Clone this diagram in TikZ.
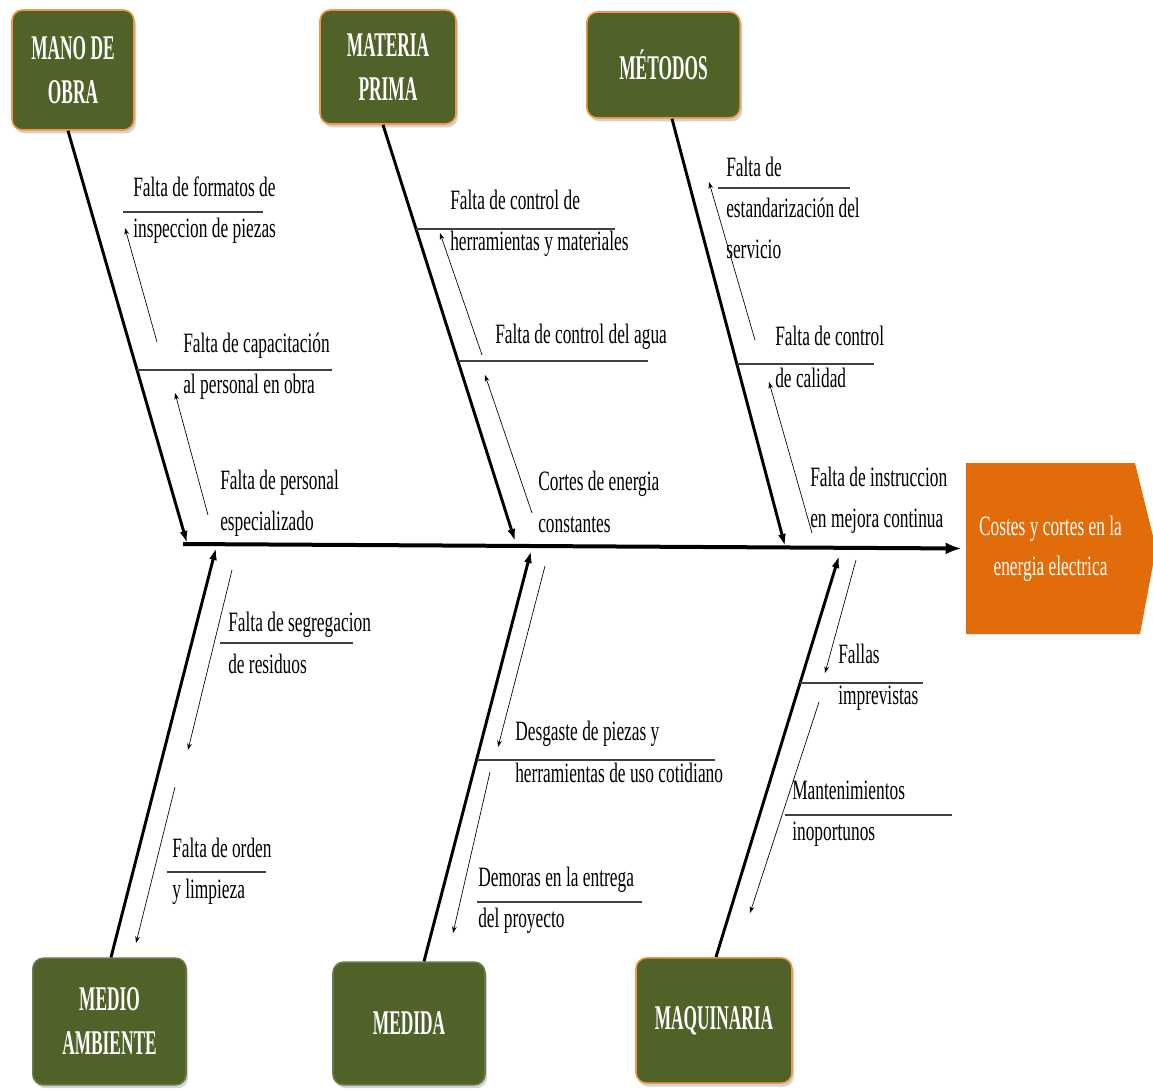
\documentclass[tikz,border=0pt]{standalone}
\usepackage{fontspec}
\setmainfont{Liberation Serif}
\newfontfamily\lblfont[FakeStretch=0.62]{Liberation Serif}
\newfontfamily\boxfont[FakeStretch=0.5]{Liberation Serif}
\usetikzlibrary{arrows.meta,shadows,calc}
\definecolor{fbgreen}{RGB}{79,98,40}
\definecolor{fborange}{RGB}{227,108,10}
\definecolor{fbborder}{RGB}{247,150,70}
\begin{document}
\begin{tikzpicture}[x=0.75pt,y=-0.75pt,
  cat/.style={rounded corners=8pt, fill=fbgreen, draw=fbborder, line width=1.2pt,
    drop shadow={opacity=0.35,shadow xshift=1.5pt,shadow yshift=-2.5pt},
    text=white, font=\boxfont\bfseries\fontsize{26}{33}\selectfont, align=center, inner sep=0pt},
  catnb/.style={cat, draw=fbgreen!85!white},
  bone/.style={line width=2.2pt, -{Latex[length=9pt,width=6pt]}},
  spine/.style={line width=3pt, -{Latex[length=12pt,width=9pt]}},
  thin/.style={line width=0.5pt, -{Stealth[length=5pt,width=3.5pt]}},
  sub/.style={line width=1.3pt, black!75},
  lbl/.style={font=\lblfont\fontsize{21}{31}\selectfont, align=left, anchor=west, inner sep=0pt}]
\useasboundingbox (0,0) rectangle (1153,1089);

% category boxes
\node[cat, minimum width=91.5pt, minimum height=90pt] (mo) at (73,70) {MANO DE\\OBRA};
\node[cat, minimum width=102pt, minimum height=85.5pt] (mp) at (388,67) {MATERIA\\PRIMA};
\node[cat, minimum width=115pt, minimum height=79.5pt] (me) at (663.5,65) {MÉTODOS};
\node[catnb, minimum width=115pt, minimum height=95pt] (ma) at (109.5,1021.5) {MEDIO\\AMBIENTE};
\node[catnb, minimum width=114pt, minimum height=92pt] (md) at (409,1023.5) {MEDIDA};
\node[cat, minimum width=117pt, minimum height=94pt] (mq) at (714,1020.5) {MAQUINARIA};

% effect
\fill[fborange] (966,463) -- (1135,463) -- (1156,548.5) -- (1140,634) -- (966,634) -- cycle;
\node[minimum width=127pt, minimum height=129pt, inner sep=0pt, text=white,
  font=\lblfont\fontsize{21}{30}\selectfont, align=center] (effect) at (1050.5,548.5)
  {Costes y cortes en la\\energia electrica};

% spine
\coordinate (tail) at (183,544);
\draw[spine, shorten >=3pt] (tail) -- (effect.west);

% bone end points on the spine
\coordinate (s1) at (187,543);
\coordinate (s2) at (515,541);
\coordinate (s3) at (785,546);
\coordinate (s4) at (216,548);
\coordinate (s5) at (531,551);
\coordinate (s6) at (839,556);

\draw[bone] ($(mo.south)+(-5,0)$) -- (s1);
\draw[bone] ($(mp.south)+(-5,0)$) -- (s2);
\draw[bone] ($(me.south)+(8.5,0)$) -- (s3);
\draw[bone] ($(ma.north)+(1.5,0)$) -- (s4);
\draw[bone] ($(md.north)+(15,0)$) -- (s5);
\draw[bone] ($(mq.north)+(2,0)$) -- (s6);

% sub lines
\draw[sub] (123,212) -- (263,212);
\draw[sub] (137,370) -- (332,370);
\draw[sub] (416,229) -- (615,229);
\draw[sub] (458,361) -- (648,361);
\draw[sub] (718,188) -- (850,188);
\draw[sub] (737,364) -- (874,364);
\draw[sub] (220,643) -- (353,643);
\draw[sub] (167,872) -- (266,872);
\draw[sub] (477,760) -- (715,760);
\draw[sub] (477,902) -- (642,902);
\draw[sub] (800,683) -- (923,683);
\draw[sub] (785,815) -- (952,815);

% thin arrows
\coordinate (t1) at (157,342);  \coordinate (h1) at (125,228);
\coordinate (t2) at (208,515);  \coordinate (h2) at (175,393);
\coordinate (t3) at (482,355);  \coordinate (h3) at (440,233);
\coordinate (t4) at (532,513);  \coordinate (h4) at (485,375);
\coordinate (t5) at (755,340);  \coordinate (h5) at (709,182);
\coordinate (t6) at (812,533);  \coordinate (h6) at (769,382);
\coordinate (t7) at (232,570);  \coordinate (h7) at (188,750);
\coordinate (t8) at (175,787);  \coordinate (h8) at (136,943);
\coordinate (t9) at (545,566);  \coordinate (h9) at (498,747);
\coordinate (t10) at (490,772); \coordinate (h10) at (453,933);
\coordinate (t11) at (856,560); \coordinate (h11) at (825,673);
\coordinate (t12) at (819,702); \coordinate (h12) at (750,913);
\foreach \i in {1,...,12} {\draw[thin] (t\i) -- (h\i);}

% labels
\node[lbl] (l1) at (133,210) {Falta de formatos de\\inspeccion de piezas};
\node[lbl] (l2) at (183,366) {Falta de capacitación\\al personal en obra};
\node[lbl] (l3) at (220,503) {Falta de personal\\especializado};
\node[lbl] (l4) at (450,223) {Falta de control de\\herramientas y materiales};
\node[lbl] (l5) at (495,337) {Falta de control del agua};
\node[lbl] (l6) at (538,502) {Cortes de energia\\constantes};
\node[lbl] (l7) at (726,208) {Falta de\\estandarización del\\servicio};
\node[lbl] (l8) at (775,357) {Falta de control\\de calidad};
\node[lbl] (l9) at (810,500) {Falta de instruccion\\en mejora continua};
\node[lbl] (l10) at (228,643) {Falta de segregacion\\de residuos};
\node[lbl] (l11) at (172,871) {Falta de orden\\y limpieza};
\node[lbl] (l12) at (515,752) {Desgaste de piezas y\\herramientas de uso cotidiano};
\node[lbl] (l13) at (478,900) {Demoras en la entrega\\del proyecto};
\node[lbl] (l14) at (838,677) {Fallas\\imprevistas};
\node[lbl] (l15) at (792,814) {Mantenimientos\\inoportunos};
\end{tikzpicture}
\end{document}
